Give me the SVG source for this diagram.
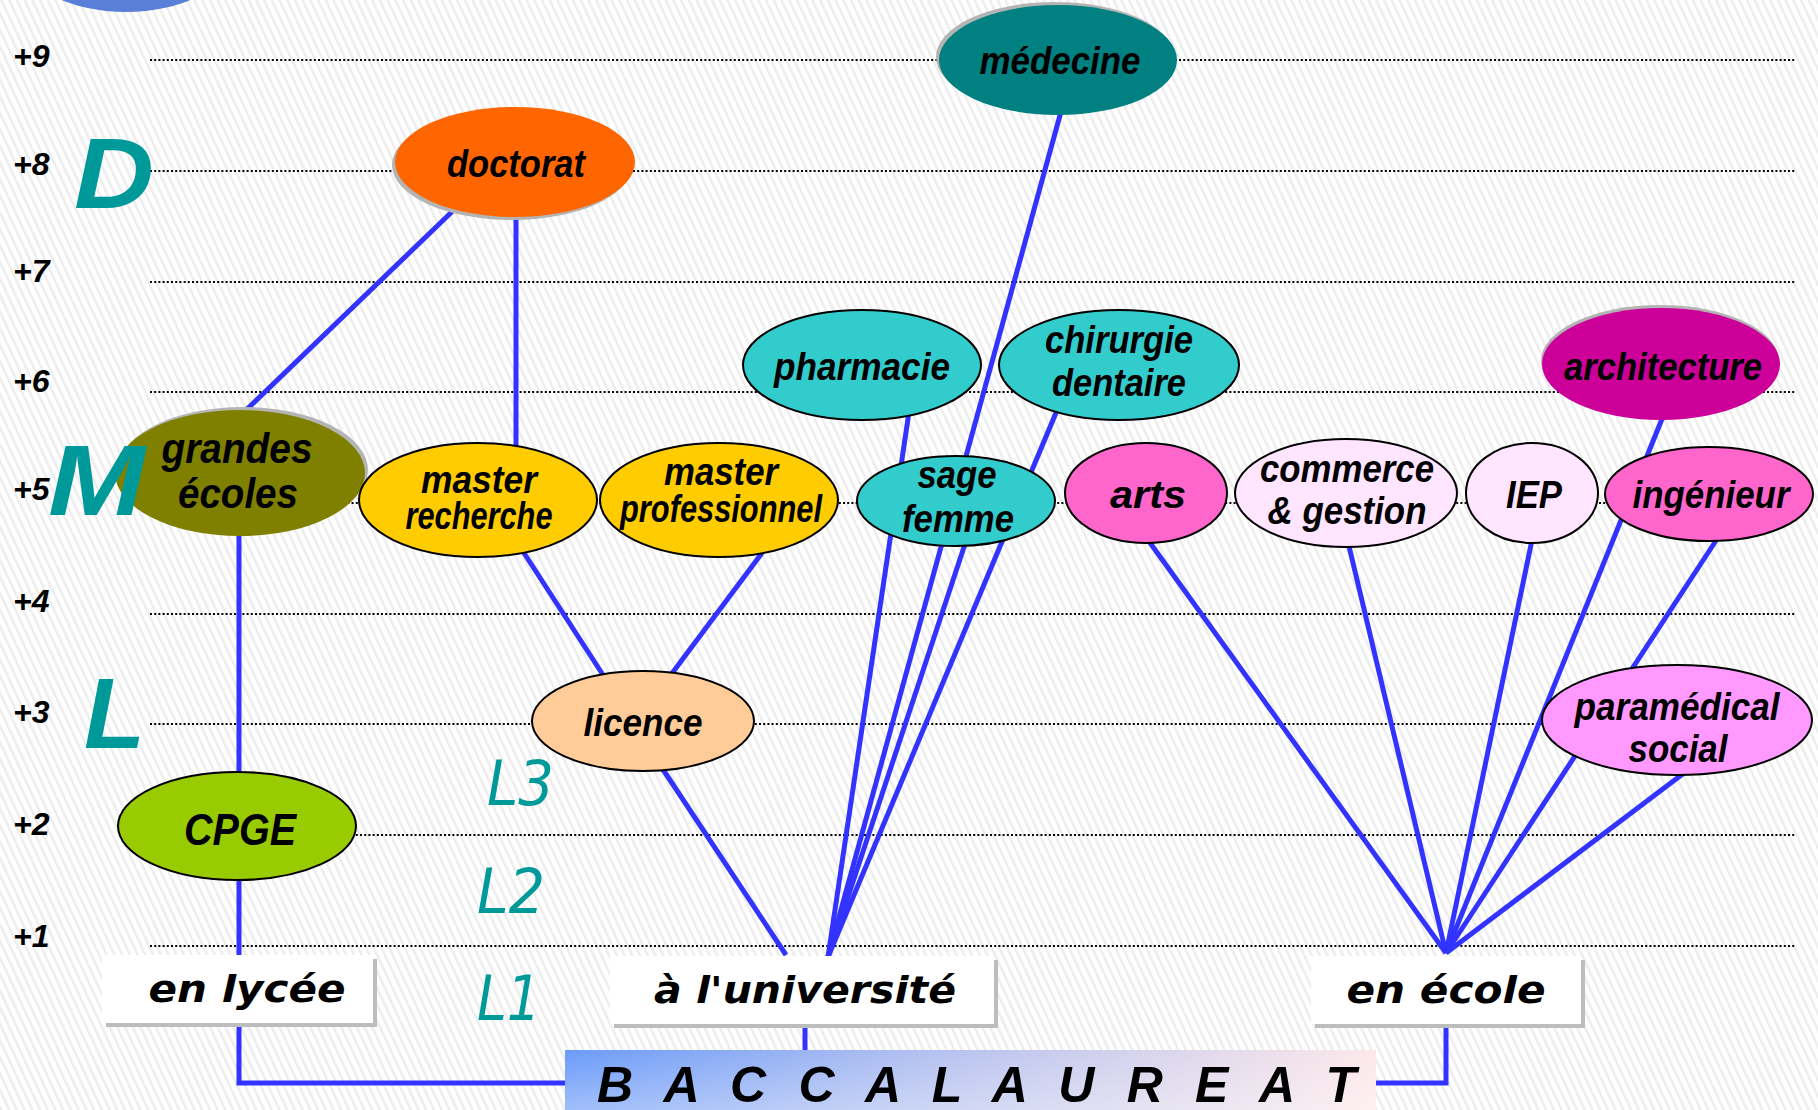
<svg xmlns="http://www.w3.org/2000/svg" width="1818" height="1110" viewBox="0 0 1818 1110">
<defs>
<pattern id="stripes" width="7" height="7" patternUnits="userSpaceOnUse" patternTransform="rotate(-25)">
<rect width="7" height="7" fill="#ffffff"/>
<rect width="2.5" height="7" fill="#ededed"/>
</pattern>
<linearGradient id="bacGrad" x1="0" y1="0" x2="1" y2="0">
<stop offset="0" stop-color="#6b9bf9"/>
<stop offset="0.45" stop-color="#b4c1f0"/>
<stop offset="1" stop-color="#fde8ea"/>
</linearGradient>
<linearGradient id="bacShade" x1="0" y1="0" x2="0" y2="1">
<stop offset="0" stop-color="#ffffff" stop-opacity="0"/>
<stop offset="1" stop-color="#ffffff" stop-opacity="0.35"/>
</linearGradient>
</defs>
<style>
.grid{stroke:#000;stroke-width:2;stroke-dasharray:2 2.2;fill:none}
.axis{font-family:"Liberation Sans",Arial,sans-serif;font-weight:bold;font-style:italic;font-size:32px;fill:#000}
.lmd{font-family:"Liberation Sans",Arial,sans-serif;font-weight:bold;font-style:italic;font-size:100px;fill:#009999}
.lyr{font-family:"DejaVu Sans",sans-serif;font-style:oblique;font-size:62px;fill:#009999}
.conn{stroke:#3333ff;stroke-width:5;fill:none}
.node{stroke:#000;stroke-width:2}
.lbl{font-family:"Liberation Sans",Arial,sans-serif;font-weight:bold;font-style:italic;font-size:38px;fill:#000;text-anchor:middle}
.shadow{fill:#b4b4b4}
.box{fill:#ffffff}
.boxsh{fill:#bdbdbd}
.btxt{font-family:"DejaVu Sans",sans-serif;font-weight:bold;font-style:oblique;font-size:38px;fill:#000;text-anchor:middle}
.bac{font-family:"Liberation Sans",Arial,sans-serif;font-weight:bold;font-style:italic;font-size:50px;fill:#000}
</style>
<rect width="1818" height="1110" fill="url(#stripes)"/>
<ellipse cx="126" cy="-43" rx="103" ry="55" fill="#5a7fd8"/>
<g id="grid">
<line class="grid" x1="150" y1="60" x2="1795" y2="60"/>
<line class="grid" x1="150" y1="171" x2="1795" y2="171"/>
<line class="grid" x1="150" y1="282" x2="1795" y2="282"/>
<line class="grid" x1="150" y1="392" x2="1795" y2="392"/>
<line class="grid" x1="150" y1="503" x2="1795" y2="503"/>
<line class="grid" x1="150" y1="614" x2="1795" y2="614"/>
<line class="grid" x1="150" y1="724" x2="1795" y2="724"/>
<line class="grid" x1="150" y1="835" x2="1795" y2="835"/>
<line class="grid" x1="150" y1="946" x2="1795" y2="946"/>
</g>
<g id="axis">
<text class="axis" x="13" y="67">+9</text>
<text class="axis" x="13" y="175">+8</text>
<text class="axis" x="13" y="282">+7</text>
<text class="axis" x="13" y="392">+6</text>
<text class="axis" x="13" y="500">+5</text>
<text class="axis" x="13" y="612">+4</text>
<text class="axis" x="13" y="723">+3</text>
<text class="axis" x="13" y="835">+2</text>
<text class="axis" x="13" y="947">+1</text>
<text class="lyr" x="487" y="805" textLength="67" lengthAdjust="spacingAndGlyphs">L3</text>
<text class="lyr" x="477" y="913" textLength="68" lengthAdjust="spacingAndGlyphs">L2</text>
<text class="lyr" x="477" y="1020" textLength="64" lengthAdjust="spacingAndGlyphs">L1</text>
</g>
<g id="connectors">
<line class="conn" x1="460" y1="204" x2="242" y2="414"/>
<line class="conn" x1="516" y1="205" x2="516" y2="447"/>
<line class="conn" x1="239" y1="530" x2="239" y2="775"/>
<path class="conn" d="M239,875 V1083 H567"/>
<line class="conn" x1="524" y1="553" x2="605" y2="678"/>
<line class="conn" x1="762" y1="553" x2="670" y2="676"/>
<line class="conn" x1="662" y1="768" x2="786" y2="955"/>
<line class="conn" x1="1062" y1="108" x2="828" y2="957"/>
<line class="conn" x1="909" y1="412" x2="828" y2="957"/>
<line class="conn" x1="967" y1="538" x2="828" y2="957"/>
<line class="conn" x1="1058" y1="408" x2="828" y2="957"/>
<line class="conn" x1="805" y1="1020" x2="805" y2="1052"/>
<line class="conn" x1="1148" y1="540" x2="1446" y2="953"/>
<line class="conn" x1="1348" y1="542" x2="1446" y2="953"/>
<line class="conn" x1="1532" y1="540" x2="1446" y2="953"/>
<line class="conn" x1="1664" y1="414" x2="1446" y2="953"/>
<line class="conn" x1="1719" y1="536" x2="1446" y2="953"/>
<line class="conn" x1="1684" y1="773" x2="1446" y2="953"/>
<path class="conn" d="M1446,1020 V1083 H1374"/>
</g>
<g id="medecine">
<ellipse class="shadow" cx="1055" cy="57" rx="119" ry="55"/>
<ellipse cx="1058" cy="60" rx="119" ry="55" fill="#008080"/>
<text class="lbl" x="1060" y="74" textLength="161" lengthAdjust="spacingAndGlyphs">médecine</text>
</g>
<g id="doctorat">
<ellipse class="shadow" cx="512" cy="165" rx="120" ry="55"/>
<ellipse cx="515" cy="162" rx="120" ry="55" fill="#ff6600"/>
<text class="lbl" x="516" y="177" textLength="138" lengthAdjust="spacingAndGlyphs">doctorat</text>
</g>
<g id="pharmacie">
<ellipse class="node" cx="862" cy="365" rx="119" ry="55" fill="#33cccc"/>
<text class="lbl" x="862" y="380" textLength="176" lengthAdjust="spacingAndGlyphs">pharmacie</text>
</g>
<g id="chirurgie-dentaire">
<ellipse class="node" cx="1119" cy="365" rx="120" ry="55" fill="#33cccc"/>
<text class="lbl" x="1119" y="353" textLength="148" lengthAdjust="spacingAndGlyphs">chirurgie</text>
<text class="lbl" x="1119" y="396" textLength="134" lengthAdjust="spacingAndGlyphs">dentaire</text>
</g>
<g id="architecture">
<ellipse class="shadow" cx="1660" cy="361" rx="119" ry="56"/>
<ellipse cx="1661" cy="364" rx="119" ry="56" fill="#cc0099"/>
<text class="lbl" x="1663" y="380" textLength="198" lengthAdjust="spacingAndGlyphs">architecture</text>
</g>
<g id="grandes-ecoles">
<ellipse class="shadow" cx="243" cy="470" rx="125" ry="63"/>
<ellipse cx="240" cy="473" rx="125" ry="63" fill="#808000"/>
<text class="lbl" x="237" y="463" style="font-size:42px" textLength="151" lengthAdjust="spacingAndGlyphs">grandes</text>
<text class="lbl" x="238" y="508" style="font-size:42px" textLength="120" lengthAdjust="spacingAndGlyphs">écoles</text>
</g>
<g id="master-recherche">
<ellipse class="node" cx="478" cy="500" rx="119" ry="57" fill="#ffcc00"/>
<text class="lbl" x="479" y="493" textLength="116" lengthAdjust="spacingAndGlyphs">master</text>
<text class="lbl" x="479" y="529" textLength="147" lengthAdjust="spacingAndGlyphs">recherche</text>
</g>
<g id="master-professionnel">
<ellipse class="node" cx="719" cy="500" rx="119" ry="57" fill="#ffcc00"/>
<text class="lbl" x="721" y="485" textLength="114" lengthAdjust="spacingAndGlyphs">master</text>
<text class="lbl" x="721" y="522" textLength="202" lengthAdjust="spacingAndGlyphs">professionnel</text>
</g>
<g id="sage-femme">
<ellipse class="node" cx="956" cy="501" rx="99" ry="45" fill="#33cccc"/>
<text class="lbl" x="957" y="488" textLength="79" lengthAdjust="spacingAndGlyphs">sage</text>
<text class="lbl" x="958" y="532" textLength="112" lengthAdjust="spacingAndGlyphs">femme</text>
</g>
<g id="arts">
<ellipse class="node" cx="1146" cy="493" rx="81" ry="50" fill="#ff66cc"/>
<text class="lbl" x="1148" y="508" textLength="76" lengthAdjust="spacingAndGlyphs">arts</text>
</g>
<g id="commerce-gestion">
<ellipse class="node" cx="1346" cy="493" rx="111" ry="54" fill="#ffe5ff"/>
<text class="lbl" x="1347" y="482" textLength="174" lengthAdjust="spacingAndGlyphs">commerce</text>
<text class="lbl" x="1347" y="524" textLength="159" lengthAdjust="spacingAndGlyphs">&amp; gestion</text>
</g>
<g id="iep">
<ellipse class="node" cx="1532" cy="493" rx="66" ry="50" fill="#ffe5ff"/>
<text class="lbl" x="1534" y="508" textLength="56" lengthAdjust="spacingAndGlyphs">IEP</text>
</g>
<g id="ingenieur">
<ellipse class="node" cx="1709" cy="494" rx="104" ry="47" fill="#ff66cc"/>
<text class="lbl" x="1711" y="508" textLength="157" lengthAdjust="spacingAndGlyphs">ingénieur</text>
</g>
<g id="licence">
<ellipse class="node" cx="643" cy="721" rx="111" ry="50" fill="#ffcc99"/>
<text class="lbl" x="643" y="736" textLength="119" lengthAdjust="spacingAndGlyphs">licence</text>
</g>
<g id="paramedical-social">
<ellipse class="node" cx="1677" cy="720" rx="135" ry="55" fill="#ff99ff"/>
<text class="lbl" x="1677" y="720" textLength="205" lengthAdjust="spacingAndGlyphs">paramédical</text>
<text class="lbl" x="1678" y="762" textLength="99" lengthAdjust="spacingAndGlyphs">social</text>
</g>
<g id="cpge">
<ellipse class="node" cx="237" cy="826" rx="119" ry="54" fill="#99cc00"/>
<text class="lbl" x="240" y="845" style="font-size:45px" textLength="112" lengthAdjust="spacingAndGlyphs">CPGE</text>
</g>
<g id="en-lycee">
<rect class="boxsh" x="106" y="959" width="271" height="68"/>
<rect class="box" x="102" y="955" width="271" height="68"/>
<text class="btxt" x="247" y="1002" textLength="197" lengthAdjust="spacingAndGlyphs">en lycée</text>
</g>
<g id="a-l-universite">
<rect class="boxsh" x="614" y="960" width="384" height="68"/>
<rect class="box" x="610" y="956" width="384" height="68"/>
<text class="btxt" x="805" y="1003" textLength="302" lengthAdjust="spacingAndGlyphs">à l'université</text>
</g>
<g id="en-ecole">
<rect class="boxsh" x="1315" y="960" width="270" height="68"/>
<rect class="box" x="1311" y="956" width="270" height="68"/>
<text class="btxt" x="1446" y="1003" textLength="199" lengthAdjust="spacingAndGlyphs">en école</text>
</g>
<g id="baccalaureat">
<rect x="565" y="1050" width="811" height="60" fill="url(#bacGrad)"/>
<rect x="565" y="1050" width="811" height="60" fill="url(#bacShade)"/>
<text class="bac" x="597" y="1102" textLength="759" lengthAdjust="spacing">B A C C A L A U R E A T</text>
</g>
<g id="lmd-letters">
<text class="lmd" x="74" y="208" textLength="80" lengthAdjust="spacingAndGlyphs">D</text>
<text class="lmd" x="48" y="515" textLength="97" lengthAdjust="spacingAndGlyphs">M</text>
<text class="lmd" x="84" y="748">L</text>
</g>
</svg>
